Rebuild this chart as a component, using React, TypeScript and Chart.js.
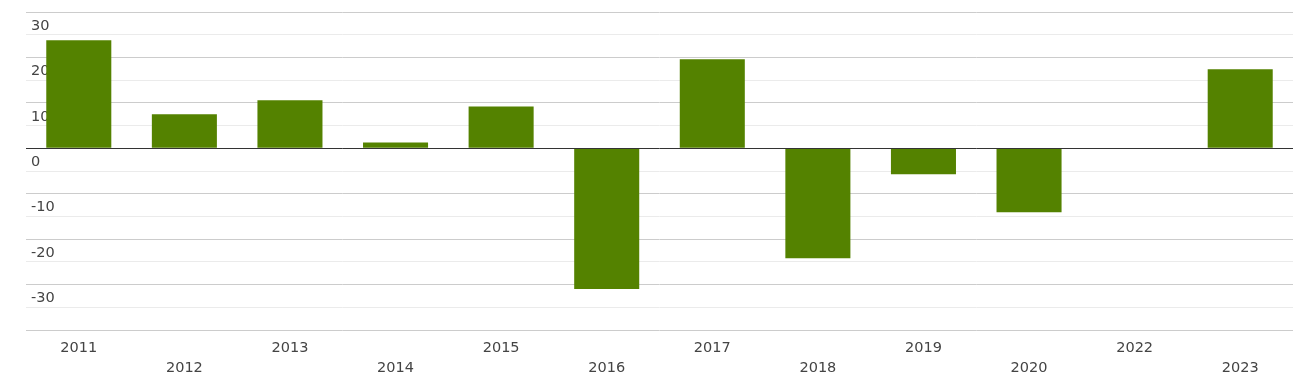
import React, { useEffect, useRef } from "react";
import { Chart, registerables } from "chart.js";

Chart.register(...registerables);

const years = ["2011", "2012", "2013", "2014", "2015", "2016", "2017", "2018", "2019", "2020", "2022", "2023"];
const values: (number | null)[] = [23.8, 7.5, 10.6, 1.3, 9.2, -31.0, 19.6, -24.2, -5.7, -14.1, null, 17.4];
const yMin = -40;
const yMax = 30;
const yStep = 5;

const labels = years;

const zeroLinePlugin = {
  id: "zeroLine",
  afterDatasetsDraw(chart: any) {
    const { ctx, scales, chartArea } = chart;
    const y = scales.y;
    const py = Math.round(y.getPixelForValue(0)) + 0.5;
    ctx.save();
    ctx.strokeStyle = "#333333";
    ctx.lineWidth = 1;
    ctx.beginPath();
    ctx.moveTo(chartArea.left, py);
    ctx.lineTo(chart.width, py);
    ctx.stroke();
    ctx.restore();
  },
};

export default function App() {
  const ref = useRef<HTMLCanvasElement>(null);
  useEffect(() => {
    document.body.style.margin = "0";
    const chart = new Chart(ref.current!, {
      type: "bar",
      data: {
        labels,
        datasets: [
          {
            data: values,
            backgroundColor: "#548200",
            barPercentage: 0.616,
            categoryPercentage: 1,
          },
        ],
      },
      plugins: [zeroLinePlugin],
      options: {
        animation: false,
        responsive: false,
        maintainAspectRatio: false,
        layout: { padding: { left: 26, right: 0, top: 12, bottom: 0 } },
        plugins: { legend: { display: false }, tooltip: { enabled: false } },
        scales: {
          x: {
            grid: { display: false, drawTicks: false },
            border: { display: false },
            ticks: {
              padding: 8,
              color: "#444",
              autoSkip: false,
              maxRotation: 0,
              font: { family: "DejaVu Sans", size: 14.5, lineHeight: "20px" },
              callback: (_v: any, i: number) => (i % 2 === 0 ? [labels[i]] : ["", labels[i]]),
            },
            afterFit: (s: any) => {
              s.height = 54;
              s.paddingLeft = 0;
              s.paddingRight = 0;
            },
          },
          y: {
            min: yMin,
            max: yMax,
            z: 1,
            grid: {
              drawTicks: false,
              color: (c: any) => {
                const v = c.tick ? c.tick.value : 0;
                if (v === 0) return "rgba(0,0,0,0)";
                return v % 10 === 0 ? "#cccccc" : "#ebebeb";
              },
            },
            border: { display: false },
            ticks: {
              stepSize: yStep,
              mirror: true,
              padding: 5,
              labelOffset: 14,
              color: "#444",
              textStrokeColor: "#ffffff",
              textStrokeWidth: 3,
              font: { family: "DejaVu Sans", size: 14.5 },
              callback: (v: any) => (v % 10 === 0 && v !== yMin ? String(v) : ""),
            },
            afterFit: (s: any) => {
              s.width = 0;
              s.paddingTop = 0;
              s.paddingBottom = 0;
            },
          },
        },
      },
    });
    return () => chart.destroy();
  }, []);
  return (
    <div style={{ position: "absolute", left: 0, top: 0, width: 1293, height: 384 }}>
      <canvas ref={ref} width={1293} height={384} />
    </div>
  );
}
